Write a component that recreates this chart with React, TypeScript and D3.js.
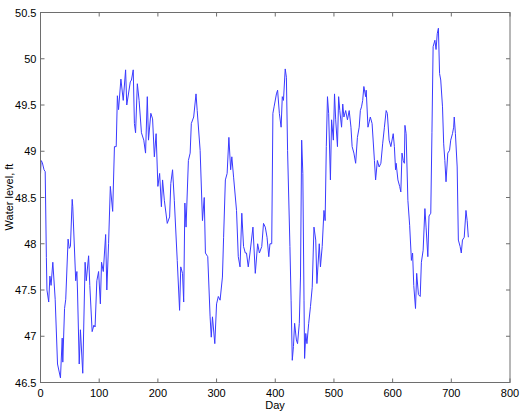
import React from "react";
import * as d3 from "d3";

const days = [0,1,3,6,8,10,11,14,16,18,21,25,29,34,37,38,41,43,47,49,51,54,55,60,62,63,66,68,72,76,78,82,84,88,91,93,96,99,102,104,107,111,113,116,119,123,126,129,131,133,137,141,145,147,153,155,158,160,162,165,168,172,176,179,182,184,188,191,194,197,200,203,206,208,211,216,220,222,225,228,233,237,239,242,244,246,248,252,255,257,261,265,267,272,276,279,281,285,289,291,293,297,300,303,306,310,312,315,318,321,324,326,329,334,337,340,343,346,349,351,354,357,362,366,370,373,377,380,383,386,389,391,394,396,398,402,404,407,410,412,414,417,419,421,425,427,429,431,433,436,438,441,443,445,447,449,450,452,454,457,460,463,466,469,471,475,477,480,483,485,487,489,491,494,496,499,501,503,506,508,510,513,515,517,520,523,526,529,531,534,537,540,543,545,547,549,551,554,555,558,562,565,569,571,574,577,580,583,586,589,591,594,597,601,603,605,606,609,612,614,616,618,620,621,623,626,629,632,634,636,639,641,644,647,649,652,655,657,660,662,665,667,669,672,674,676,678,680,682,685,687,689,691,694,697,699,702,704,705,707,710,712,715,717,719,722,725,727,729];
const levels = [48.75,48.9,48.88,48.8,48.78,47.85,47.5,47.37,47.65,47.55,47.8,47.4,46.7,46.55,46.98,46.72,47.3,47.4,48.05,47.95,47.97,48.48,48.4,47.6,47.7,47.5,46.7,47.07,46.6,47.8,47.6,47.87,47.55,47.05,47.12,47.1,47.6,47.7,47.35,47.8,47.7,48.1,47.5,48.0,48.62,48.35,49.05,49.05,49.6,49.45,49.78,49.55,49.88,49.5,49.75,49.77,49.88,49.3,49.2,49.73,49.55,49.2,49.12,48.98,49.59,49.12,49.41,49.35,48.94,49.19,48.62,48.76,48.4,48.69,48.47,48.22,48.29,48.65,48.8,48.47,47.82,47.28,47.75,47.68,47.37,48.44,48.18,48.9,48.98,49.3,49.37,49.62,49.44,49.01,48.25,48.5,47.9,47.86,47.21,46.99,47.21,46.92,47.35,47.43,47.39,47.64,48.07,48.69,48.76,49.15,48.8,48.94,48.72,48.36,47.86,47.75,48.33,47.97,47.9,47.9,47.75,47.9,48.18,47.68,48.0,47.9,47.97,48.22,48.18,48.07,47.86,48.0,48.0,49.41,49.48,49.62,49.66,49.41,49.26,49.59,49.55,49.89,49.8,49.01,47.97,47.39,46.74,46.89,47.14,46.96,46.92,47.14,47.64,49.12,48.76,47.39,46.76,47.03,46.92,47.14,47.32,47.53,48.18,48.04,47.57,48.0,47.75,47.97,48.36,48.25,49.05,49.59,49.41,48.69,49.34,49.12,49.62,49.34,49.05,49.59,49.44,49.26,49.51,49.37,49.44,49.34,49.44,49.26,49.05,48.98,48.87,49.15,49.26,49.44,49.48,49.55,49.7,49.59,49.66,49.26,49.37,49.3,48.9,48.69,48.9,48.83,48.87,49.08,49.26,49.44,49.41,49.12,49.05,49.19,49.05,48.8,48.87,48.69,48.62,48.56,48.98,48.9,48.87,49.28,49.19,48.47,48.2,47.82,47.9,47.55,47.3,47.68,47.45,47.43,47.8,47.93,48.38,48.18,47.86,48.3,48.33,49.2,50.13,50.2,50.1,50.27,50.33,49.84,49.77,49.48,49.08,48.9,48.67,48.98,49.01,49.12,49.19,49.26,49.37,49.19,48.83,48.04,47.97,47.9,48.04,48.07,48.36,48.25,48.07];
const xTicks = [0,100,200,300,400,500,600,700,800];
const yTicks = [46.5,47,47.5,48,48.5,49,49.5,50,50.5];

export default function App() {
  const left = 40.5, right = 510, top = 12.5, bottom = 382.5;
  const x = d3.scaleLinear().domain([0, 800]).range([left, right]);
  const y = d3.scaleLinear().domain([46.5, 50.5]).range([bottom, top]);
  const data = days.map((d, i) => [d, levels[i]] as [number, number]);
  const line = d3.line<[number, number]>().x(d => x(d[0])).y(d => y(d[1]));
  const axisColor = "#6e6e6e";
  const font = "'Liberation Sans', Arial, sans-serif";
  return (
    <svg width={526} height={413} style={{ position: "absolute", left: 0, top: 0, background: "#fff" }}>
      <rect x={0} y={0} width={526} height={413} fill="#fff" />
      <path d={line(data) || ""} fill="none" stroke="#3a3aff" strokeWidth={1} />
      <rect x={left} y={top} width={right - left} height={bottom - top} fill="none" stroke={axisColor} strokeWidth={1} />
      {xTicks.map(t => (
        <g key={"x" + t}>
          <line x1={x(t)} x2={x(t)} y1={bottom} y2={bottom - 4} stroke={axisColor} />
          <line x1={x(t)} x2={x(t)} y1={top} y2={top + 4} stroke={axisColor} />
          <text x={x(t)} y={bottom + 14} textAnchor="middle" fontFamily={font} fontSize={11} fill="#000">{t}</text>
        </g>
      ))}
      {yTicks.map(t => (
        <g key={"y" + t}>
          <line x1={left} x2={left + 4} y1={y(t)} y2={y(t)} stroke={axisColor} />
          <line x1={right} x2={right - 4} y1={y(t)} y2={y(t)} stroke={axisColor} />
          <text x={left - 4} y={y(t) + 4} textAnchor="end" fontFamily={font} fontSize={11} fill="#000">{t}</text>
        </g>
      ))}
      <text x={275} y={409} textAnchor="middle" fontFamily={font} fontSize={11} fill="#000">Day</text>
      <text transform={`translate(13,197) rotate(-90)`} textAnchor="middle" fontFamily={font} fontSize={11} fill="#000">Water level, ft</text>
    </svg>
  );
}
